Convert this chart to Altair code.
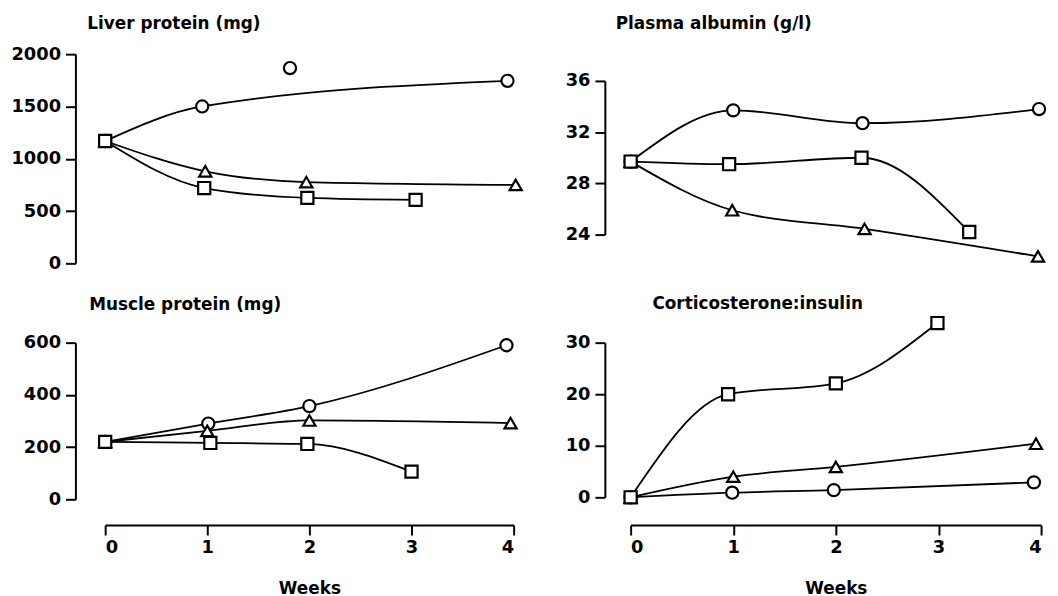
import altair as alt
import pandas as pd

FONT = "DejaVu Sans"

x_ticks = [0, 1, 2, 3, 4]
x_title = "Weeks"

# Liver protein (mg)
liver_title = "Liver protein (mg)"
liver_ticks = [0, 500, 1000, 1500, 2000]
liver_circle_x = [0, 0.95, 3.94]
liver_circle_y = [1170, 1500, 1745]
liver_extra_x = [1.81]
liver_extra_y = [1867]
liver_tri_x = [0, 0.98, 1.97, 4.02]
liver_tri_y = [1170, 880, 777, 750]
liver_sq_x = [0, 0.97, 1.98, 3.04]
liver_sq_y = [1170, 720, 626, 607]

# Plasma albumin (g/l)
alb_title = "Plasma albumin (g/l)"
alb_ticks = [24, 28, 32, 36]
alb_circle_x = [0, 1.0, 2.26, 3.98]
alb_circle_y = [29.7, 33.7, 32.7, 33.8]
alb_sq_x = [0, 0.96, 2.25, 3.30]
alb_sq_y = [29.7, 29.5, 30.0, 24.2]
alb_tri_x = [0, 0.99, 2.28, 3.97]
alb_tri_y = [29.7, 25.9, 24.45, 22.3]

# Muscle protein (mg)
mus_title = "Muscle protein (mg)"
mus_ticks = [0, 200, 400, 600]
mus_circle_x = [0, 1.01, 2.0, 3.93]
mus_circle_y = [220, 290, 357, 590]
mus_tri_x = [0, 1.0, 2.0, 3.97]
mus_tri_y = [220, 262, 302, 292]
mus_sq_x = [0, 1.03, 1.98, 3.0]
mus_sq_y = [220, 216, 212, 106]

# Corticosterone:insulin
cort_title = "Corticosterone:insulin"
cort_ticks = [0, 10, 20, 30]
cort_sq_x = [0, 0.95, 2.0, 2.99]
cort_sq_y = [0, 20, 22.1, 33.8]
cort_tri_x = [0, 1.0, 2.0, 3.95]
cort_tri_y = [0, 4.0, 5.9, 10.4]
cort_circle_x = [0, 0.99, 1.98, 3.93]
cort_circle_y = [0, 0.9, 1.4, 2.9]

SHAPE_DOMAIN = ["circle", "square", "triangle"]
SHAPE_RANGE = ["circle", "square", "triangle-up"]


def make_df(series):
    rows = []
    for name, xs, ys in series:
        for x, y in zip(xs, ys):
            rows.append({"series": name, "week": x, "value": y})
    return pd.DataFrame(rows)


def panel(title, series, extra, y_domain, y_ticks, width, height, y_range, show_x,
          y_offset, x_offset, title_dx, title_offset, min_extent):
    df = make_df(series)
    pts_df = pd.concat([df, make_df(extra)]) if extra else df
    if show_x:
        x_axis = alt.Axis(values=x_ticks, title=x_title, offset=x_offset,
                          titlePadding=24, labelPadding=4, format="d")
    else:
        x_axis = None
    x = alt.X("week:Q", scale=alt.Scale(domain=[0, 4], nice=False, zero=False), axis=x_axis)
    yscale = alt.Scale(domain=y_domain, nice=False, zero=False, range=y_range)
    y = alt.Y("value:Q", scale=yscale,
              axis=alt.Axis(values=y_ticks, title=None, offset=y_offset,
                            minExtent=min_extent, maxExtent=min_extent, format="d"))
    lines = alt.Chart(df).mark_line(interpolate="monotone", color="black", strokeWidth=1.8).encode(
        x=x, y=y, detail="series:N")
    pts = alt.Chart(pts_df).mark_point(filled=True, fill="white", stroke="black", strokeWidth=2.2,
                                       size=150, opacity=1).encode(
        x=x, y=y,
        shape=alt.Shape("series:N", scale=alt.Scale(domain=SHAPE_DOMAIN, range=SHAPE_RANGE), legend=None))
    return alt.layer(lines, pts).properties(
        width=width, height=height,
        title=alt.TitleParams(title, anchor="start", frame="group", dx=title_dx, offset=title_offset,
                              fontSize=17, font=FONT, fontWeight="bold", color="black"))


tl = panel(liver_title,
           [("circle", liver_circle_x, liver_circle_y), ("triangle", liver_tri_x, liver_tri_y),
            ("square", liver_sq_x, liver_sq_y)],
           [("circle", liver_extra_x, liver_extra_y)],
           [0, 2000], liver_ticks, 412, 211, [211, 0], False, 30, 0, -18, 12, 68)
tr = panel(alb_title,
           [("circle", alb_circle_x, alb_circle_y), ("triangle", alb_tri_x, alb_tri_y),
            ("square", alb_sq_x, alb_sq_y)],
           None, [24, 36], alb_ticks, 414, 211, [182, 27], False, 26, 0, -15, 21, 45)
bl = panel(mus_title,
           [("circle", mus_circle_x, mus_circle_y), ("triangle", mus_tri_x, mus_tri_y),
            ("square", mus_sq_x, mus_sq_y)],
           None, [0, 600], mus_ticks, 412, 158, [158, 0], True, 30, 26, -16, 20, 68)
br = panel(cort_title,
           [("circle", cort_circle_x, cort_circle_y), ("triangle", cort_tri_x, cort_tri_y),
            ("square", cort_sq_x, cort_sq_y)],
           None, [0, 30], cort_ticks, 414, 158, [156, 0], True, 26, 26, 22, 0, 45)

chart = alt.concat(tl, tr, bl, br, columns=2, spacing={"row": 22, "column": 34}).properties(
    padding={"left": 0, "top": 5, "right": 0, "bottom": 0}
).configure_view(stroke=None).configure_axis(
    domainColor="black", domainWidth=2, tickColor="black", tickWidth=2, tickSize=10,
    labelFont=FONT, labelFontSize=18, labelFontWeight="bold", labelColor="black", labelPadding=5,
    grid=False, titleFont=FONT, titleFontSize=17, titleFontWeight="bold", titleColor="black"
)

chart.save("out.html", embed_options={"renderer": "svg", "actions": False})
